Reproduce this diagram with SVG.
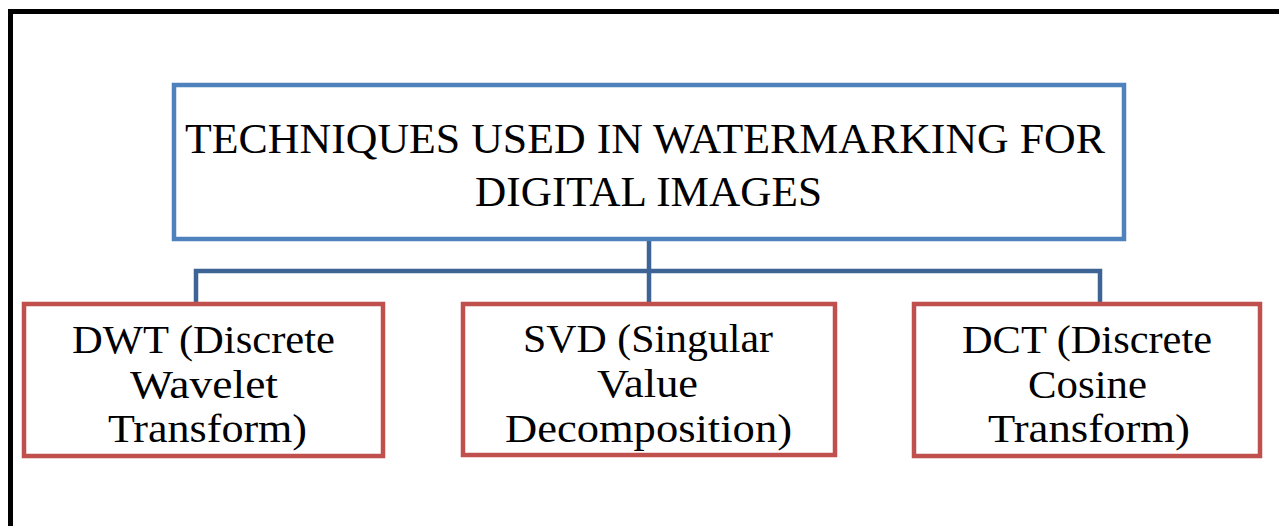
<svg xmlns="http://www.w3.org/2000/svg" width="1279" height="526" viewBox="0 0 1279 526">
<style>
  .frame { fill: none; stroke: #000; stroke-width: 5; }
  .top { fill: #fff; stroke: #4F81BD; stroke-width: 4.5; }
  .child { fill: #fff; stroke: #C0504D; stroke-width: 4.5; }
  .conn { fill: none; stroke: #3E6496; stroke-width: 4.5; }
  text { font-family: "Liberation Serif", "DejaVu Serif", serif; fill: #000; text-anchor: middle; }
  .t1 { font-size: 43px; }
  .t2 { font-size: 41px; }
</style>
<rect width="1279" height="526" fill="#fff"/>
<path class="frame" d="M10.5 530 V11.5 H1285"/>
<g id="connectors">
  <path class="conn" d="M649 240 V304 M196 304 V271 H1100 V304"/>
</g>
<g id="root">
  <rect class="top" x="174" y="85" width="950" height="154"/>
  <text class="t1" x="645" y="153" textLength="920" lengthAdjust="spacingAndGlyphs">TECHNIQUES USED IN WATERMARKING FOR</text>
  <text class="t1" x="648.5" y="206" textLength="347" lengthAdjust="spacingAndGlyphs">DIGITAL IMAGES</text>
</g>
<g id="dwt">
  <rect class="child" x="24" y="304" width="359" height="152"/>
  <text class="t2" x="203.5" y="353" textLength="263" lengthAdjust="spacingAndGlyphs">DWT (Discrete</text>
  <text class="t2" x="204" y="398" textLength="148" lengthAdjust="spacingAndGlyphs">Wavelet</text>
  <text class="t2" x="207.5" y="442" textLength="199" lengthAdjust="spacingAndGlyphs">Transform)</text>
</g>
<g id="svd">
  <rect class="child" x="463" y="304" width="372" height="151"/>
  <text class="t2" x="648" y="352" textLength="250" lengthAdjust="spacingAndGlyphs">SVD (Singular</text>
  <text class="t2" x="647.5" y="397" textLength="101" lengthAdjust="spacingAndGlyphs">Value</text>
  <text class="t2" x="648.5" y="442" textLength="287" lengthAdjust="spacingAndGlyphs">Decomposition)</text>
</g>
<g id="dct">
  <rect class="child" x="914" y="304" width="346" height="152"/>
  <text class="t2" x="1087" y="353" textLength="250" lengthAdjust="spacingAndGlyphs">DCT (Discrete</text>
  <text class="t2" x="1087.5" y="398" textLength="119" lengthAdjust="spacingAndGlyphs">Cosine</text>
  <text class="t2" x="1089" y="442" textLength="202" lengthAdjust="spacingAndGlyphs">Transform)</text>
</g>
</svg>
